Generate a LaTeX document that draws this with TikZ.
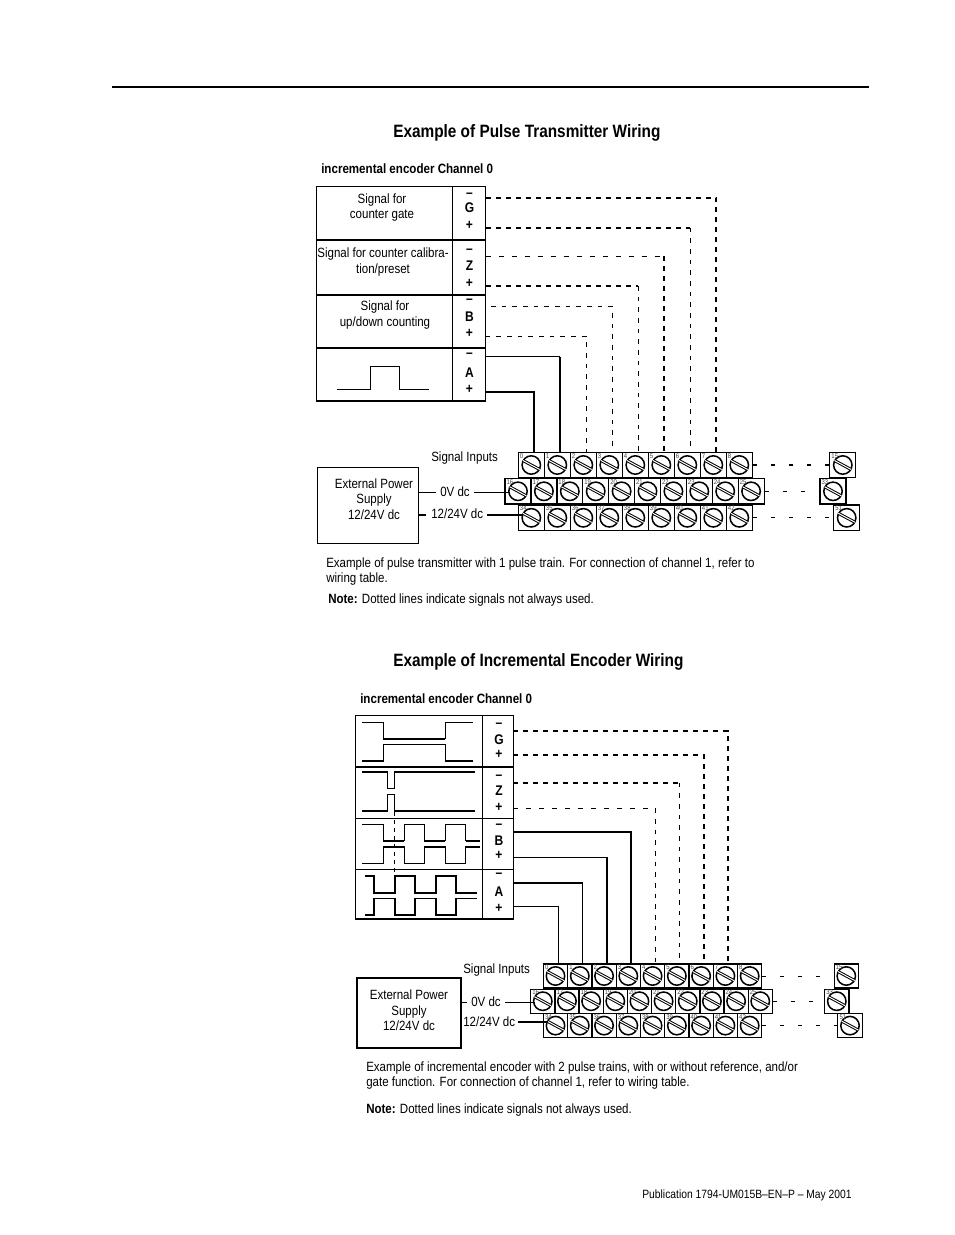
\documentclass[tikz,border=0pt]{standalone}
\usepackage{fontspec}
\setmainfont[FakeStretch=0.86]{Liberation Sans}
\usetikzlibrary{positioning}

\tikzset{
  txt/.style={inner sep=0pt,font=\fontsize{10.05}{11.6}\selectfont},
  boldtxt/.style={inner sep=0pt,font=\fontsize{10.1}{11.6}\selectfont\bfseries},
  heading/.style={inner sep=0pt,font=\fontsize{13.4}{15}\selectfont\bfseries},
  pinlabel/.style={inner sep=0pt,font=\fontsize{10.5}{10}\selectfont\bfseries},
  terminal/.style={draw,line width=0.9pt,inner sep=0pt,path picture={
      \draw[line width=1.15pt] (path picture bounding box.center) circle (6.9pt);
      \draw[line width=0.75pt,double distance=0.75pt]
        ([shift={(-6.3pt,3.4pt)}]path picture bounding box.center) --
        ([shift={(6.3pt,-3.4pt)}]path picture bounding box.center);}},
  termA/.style={terminal,minimum width=19.5pt,minimum height=19.1pt},
  termB/.style={terminal,minimum width=18.2pt,minimum height=18.1pt},
  termno/.style={inner sep=0pt,anchor=north west,text=black!75,font=\fontsize{5.2}{5.5}\selectfont},
  thinwire/.style={line width=0.75pt},
  thickwire/.style={line width=1.6pt},
  thickdash/.style={line width=1.6pt,dash pattern=on 3.75pt off 3.75pt},
  thinH/.style={line width=0.75pt,dash pattern=on 3.75pt off 6pt},
  thinV/.style={line width=0.75pt,dash pattern=on 3.5pt off 4.5pt},
  rowdash/.style={line width=0.75pt,dash pattern=on 3pt off 10.5pt},
  rowdashB/.style={line width=1.6pt,dash pattern=on 3pt off 10.5pt},
}
% horizontal run and vertical run of one wire in two weights
\newcommand{\wire}[4]{
  \draw[#1] (#3) -- (#3 -| #4);
  \draw[#2] (#3 -| #4) -- (#4);
}

\begin{document}
\begin{tikzpicture}[x=0.75pt,y=-0.75pt]
  \useasboundingbox (0,0) rectangle (954,1235);
  \draw[line width=1.9pt] (112,87) -- (869,87);

  % pulse transmitter
  \node (titlePulse) [heading,anchor=west] at (393,133) {Example of Pulse Transmitter Wiring};
  \node (chanPulse) [boldtxt,anchor=west] at (321,169) {incremental encoder Channel 0};

  \draw[line width=1pt] (316.7,186.7) rectangle (485.7,401);
  \draw[line width=1pt] (452.3,186.7) -- (452.3,401);
  \draw[line width=0.9pt] (316.7,240) -- (485.7,240);
  \draw[line width=1.3pt] (316.7,295) -- (485.7,295);
  \draw[line width=1.3pt] (316.7,348.3) -- (485.7,348.3);

  \node (pSigG) [txt,align=center] at (382,207.5) {Signal for\\counter gate};
  \node (pSigZ) [txt,align=center] at (383,262) {Signal for counter calibra-\\tion/preset};
  \node (pSigB) [txt,align=center] at (385,315) {Signal for\\up/down counting};
  \draw[line width=0.7pt] (336.7,389) -- (370.3,389) -- (370.3,366.7) -- (399.3,366.7)
    -- (399.3,389) -- (429,389);

  \node (pG) [pinlabel] at (469.5,208) {G};
  \node (pZ) [pinlabel] at (469.5,265.5) {Z};
  \node (pB) [pinlabel] at (469.5,316.5) {B};
  \node (pA) [pinlabel] at (469.5,373) {A};
  \foreach \nm/\ym/\yp in {G/195/225.7,Z/251/283.3,B/301.7/333.3,A/355.7/389.3} {
    \node (pMinus\nm) [pinlabel] at (469.5,\ym) {--};
    \node (pPlus\nm) [pinlabel] at (469.5,\yp) {+};
  }

  \foreach \n [count=\i from 0] in {0,...,8} {
    \node (pt\n) [termA] at ({531.3+\i*26},465) {};
    \node (ptno\n) [termno] at ([shift={(1.5pt,-1pt)}]pt\n.north west) {\n};
  }
  \foreach \n [count=\i from 0] in {16,...,25} {
    \node (pt\n) [termA] at ({518+\i*25.9},491.3) {};
    \node (ptno\n) [termno] at ([shift={(1.5pt,-1pt)}]pt\n.north west) {\n};
  }
  \foreach \n [count=\i from 0] in {34,...,42} {
    \node (pt\n) [termA] at ({531.3+\i*26},517.8) {};
    \node (ptno\n) [termno] at ([shift={(1.5pt,-1pt)}]pt\n.north west) {\n};
  }
  \foreach \n/\x/\y in {15/842.8/465,33/833/491.3,51/846.7/517.8} {
    \node (pt\n) [termA] at (\x,\y) {};
    \node (ptno\n) [termno] at ([shift={(1.5pt,-1pt)}]pt\n.north west) {\n};
  }

  % wire ends
  \coordinate (pGm) at (485.7,197.7);
  \coordinate (pGp) at (485.7,227.7);
  \coordinate (pZm) at (485.7,256.3);
  \coordinate (pZp) at (485.7,286);
  \coordinate (pBm) at (491,306);
  \coordinate (pBp) at (485.7,336);
  \coordinate (pAm) at (485.7,356.7);
  \coordinate (pAp) at (485.7,392.3);
  \foreach \n in {0,...,7}
    \coordinate (pPin\n) at ([xshift=2.1pt]pt\n.north);

  \draw[thickdash] (pGm) -| (pPin7);
  \wire{thickdash}{thinV}{pGp}{pPin6}
  \wire{thinH}{thickdash}{pZm}{pPin5}
  \wire{thickdash}{thinV}{pZp}{pPin4}
  \draw[thinV] (pBm) -| (pPin3);
  \draw[thinV] (pBp) -| (pPin2);
  \wire{thinwire}{thickwire}{pAm}{pPin1}
  \draw[thickwire] (pAp) -| (pPin0);

  \draw[rowdashB] (pt8.east) -- (pt15.west);
  \draw[rowdash] (pt25.east) -- (pt33.west);
  \draw[rowdash] (pt42.east) -- (pt51.west);

  \node (pInputs) [txt,anchor=west] at (431,458) {Signal Inputs};
  \node (pPower) [draw,line width=0.9pt,inner sep=0pt,minimum width=75.8pt,minimum height=56.7pt] at (367.8,505.5) {};
  \node (pPowerTxt) [txt,align=center] at (374,499) {External Power\\Supply\\12/24V dc};
  \node (p0V) [txt,anchor=west] at (440,492) {0V dc};
  \node (p12V) [txt,anchor=west] at (431,514) {12/24V dc};
  \coordinate (pScrew16) at ([xshift=3.6pt]pt16.west);
  \coordinate (pScrew34) at ([xshift=3.6pt]pt34.west);
  \draw[thinwire] (pPower.east |- 0,492.7) -- (436,492.7);
  \draw[thinwire] (474,492.7) -- (pScrew16 |- 0,492.7);
  \draw[thickwire] (pPower.east |- 0,514.7) -- (426,514.7);
  \draw[thickwire] (487,514.7) -- (pScrew34 |- 0,514.7);

  \node (pPara) [txt,align=left,anchor=north west] at (326,557.5)
    {Example of pulse transmitter with 1 pulse train. For connection of channel 1, refer to\\wiring table.};
  \node (pNote) [txt,anchor=west] at (328,600.5) {\textbf{Note:} Dotted lines indicate signals not always used.};

  % incremental encoder
  \node (titleEnc) [heading,anchor=west] at (393,662) {Example of Incremental Encoder Wiring};
  \node (chanEnc) [boldtxt,anchor=west] at (360,699) {incremental encoder Channel 0};

  \draw[line width=1.1pt] (355.7,715.7) rectangle (513.3,919);
  \draw[line width=1pt] (482.3,715.7) -- (482.3,919);
  \draw[line width=1.3pt] (355.7,766.7) -- (513.3,766.7);
  \draw[line width=0.8pt] (355.7,818.3) -- (513.3,818.3);
  \draw[line width=0.8pt] (355.7,869.3) -- (513.3,869.3);

  \begin{scope}[shift={(350,710)},x=0.25pt,y=-0.25pt]
    \draw[line width=0.75pt] (37,37) -- (100,37) -- (100,86) -- (285,86) -- (285,37) -- (368,37);
    \draw[line width=1.4pt] (100,86) -- (285,86);
    \draw[line width=0.75pt] (37,153) -- (100,153) -- (100,103) -- (285,103) -- (285,153) -- (368,153);
    \draw[line width=1.4pt] (37,153) -- (100,153) (285,153) -- (368,153);

    \draw[line width=1.4pt] (37,186) -- (113,186) (133,186) -- (375,186);
    \draw[line width=0.75pt] (113,186) -- (113,235) -- (133,235) -- (133,186);
    \draw[line width=1.4pt] (37,302) -- (113,302) (133,302) -- (375,302);
    \draw[line width=0.75pt] (113,302) -- (113,253) -- (133,253) -- (133,302);
    \draw[line width=0.6pt,dash pattern=on 3pt off 3pt] (133,305) -- (133,497);

    \draw[line width=0.75pt] (37,343) -- (100,343) -- (100,392) -- (162,392) -- (162,343) -- (223,343)
      -- (223,392) -- (285,392) -- (285,343) -- (347,343) -- (347,392) -- (390,392);
    \draw[line width=1.4pt] (100,392) -- (162,392) (223,392) -- (285,392) (347,392) -- (390,392);
    \draw[line width=0.75pt] (37,460) -- (100,460) -- (100,410) -- (162,410) -- (162,460) -- (223,460)
      -- (223,410) -- (285,410) -- (285,460) -- (347,460) -- (347,410) -- (390,410);
    \draw[line width=1.4pt] (100,410) -- (162,410) (223,410) -- (285,410) (347,410) -- (390,410);

    \draw[line width=1.4pt] (45,497) -- (72,497) -- (72,548) -- (134,548) -- (134,497) -- (195,497)
      -- (195,548) -- (257,548) -- (257,497) -- (318,497) -- (318,548) -- (380,548);
    \draw[line width=0.75pt] (72,565) -- (134,565) (195,565) -- (257,565) (318,565) -- (380,565);
    \draw[line width=1.4pt] (45,615) -- (72,615) -- (72,565) (134,565) -- (134,615) -- (195,615)
      -- (195,565) (257,565) -- (257,615) -- (318,615) -- (318,565);
  \end{scope}

  \node (eG) [pinlabel] at (499,739.5) {G};
  \node (eZ) [pinlabel] at (499,791) {Z};
  \node (eB) [pinlabel] at (499,840.5) {B};
  \node (eA) [pinlabel] at (499,892) {A};
  \foreach \nm/\ym/\yp in {G/725/754,Z/777.7/807.3,B/826/855.3,A/875.7/908} {
    \node (eMinus\nm) [pinlabel] at (499,\ym) {--};
    \node (ePlus\nm) [pinlabel] at (499,\yp) {+};
  }

  \foreach \n [count=\i from 0] in {0,...,8} {
    \node (et\n) [termB] at ({555.5+\i*24.27},976) {};
    \node (etno\n) [termno] at ([shift={(1.5pt,-1pt)}]et\n.north west) {\n};
  }
  \foreach \n [count=\i from 0] in {16,...,25} {
    \node (et\n) [termB] at ({542.8+\i*24.16},1001.2) {};
    \node (etno\n) [termno] at ([shift={(1.5pt,-1pt)}]et\n.north west) {\n};
  }
  \foreach \n [count=\i from 0] in {34,...,42} {
    \node (et\n) [termB] at ({555.5+\i*24.27},1025.6) {};
    \node (etno\n) [termno] at ([shift={(1.5pt,-1pt)}]et\n.north west) {\n};
  }
  \foreach \n/\x/\y in {15/846.3/976,33/836.8/1001.2,51/850/1025.6} {
    \node (et\n) [termB] at (\x,\y) {};
    \node (etno\n) [termno] at ([shift={(1.5pt,-1pt)}]et\n.north west) {\n};
  }

  % wire ends
  \coordinate (eGm) at (513.3,730.7);
  \coordinate (eGp) at (513.3,755);
  \coordinate (eZm) at (513.3,782.7);
  \coordinate (eZp) at (513.3,808.3);
  \coordinate (eBm) at (513.3,832);
  \coordinate (eBp) at (513.3,857);
  \coordinate (eAm) at (513.3,882.7);
  \coordinate (eAp) at (513.3,906);
  \foreach \n in {0,...,7}
    \coordinate (ePin\n) at ([xshift=2.1pt]et\n.north);

  \draw[thickdash] (eGm) -| (ePin7);
  \draw[thickdash] (eGp) -| (ePin6);
  \wire{thickdash}{thinV}{eZm}{ePin5}
  \wire{thinH}{thinV}{eZp}{ePin4}
  \draw[thickwire] (eBm) -| (ePin3);
  \wire{thinwire}{thickwire}{eBp}{ePin2}
  \wire{thickwire}{thinwire}{eAm}{ePin1}
  \draw[thinwire] (eAp) -| (ePin0);

  \draw[rowdash] (et8.east) -- (et15.west);
  \draw[rowdash] (et25.east) -- (et33.west);
  \draw[rowdash] (et42.east) -- (et51.west);

  \node (eInputs) [txt,anchor=west] at (463,970) {Signal Inputs};
  \node (ePower) [draw,line width=0.9pt,inner sep=0pt,minimum width=78pt,minimum height=52.5pt] at (409,1013) {};
  \node (ePowerTxt) [txt,align=center] at (409,1010.5) {External Power\\Supply\\12/24V dc};
  \node (e0V) [txt,anchor=west] at (471,1002) {0V dc};
  \node (e12V) [txt,anchor=west] at (463,1022) {12/24V dc};
  \coordinate (eScrew16) at ([xshift=3.6pt]et16.west);
  \coordinate (eScrew34) at ([xshift=3.6pt]et34.west);
  \draw[thinwire] (ePower.east |- 0,1002.3) -- (467,1002.3);
  \draw[thinwire] (505,1002.3) -- (eScrew16 |- 0,1002.3);
  \draw[thickwire] (518,1022) -- (eScrew34 |- 0,1022);

  \node (ePara) [txt,align=left,anchor=north west] at (366,1061.5)
    {Example of incremental encoder with 2 pulse trains, with or without reference, and/or\\gate function. For connection of channel 1, refer to wiring table.};
  \node (eNote) [txt,anchor=west] at (366,1110.5) {\textbf{Note:} Dotted lines indicate signals not always used.};

  \node (footer) [inner sep=0pt,anchor=east,font=\fontsize{9}{10}\selectfont] at (852,1195.5) {Publication 1794-UM015B--EN--P -- May 2001};
\end{tikzpicture}
\end{document}
